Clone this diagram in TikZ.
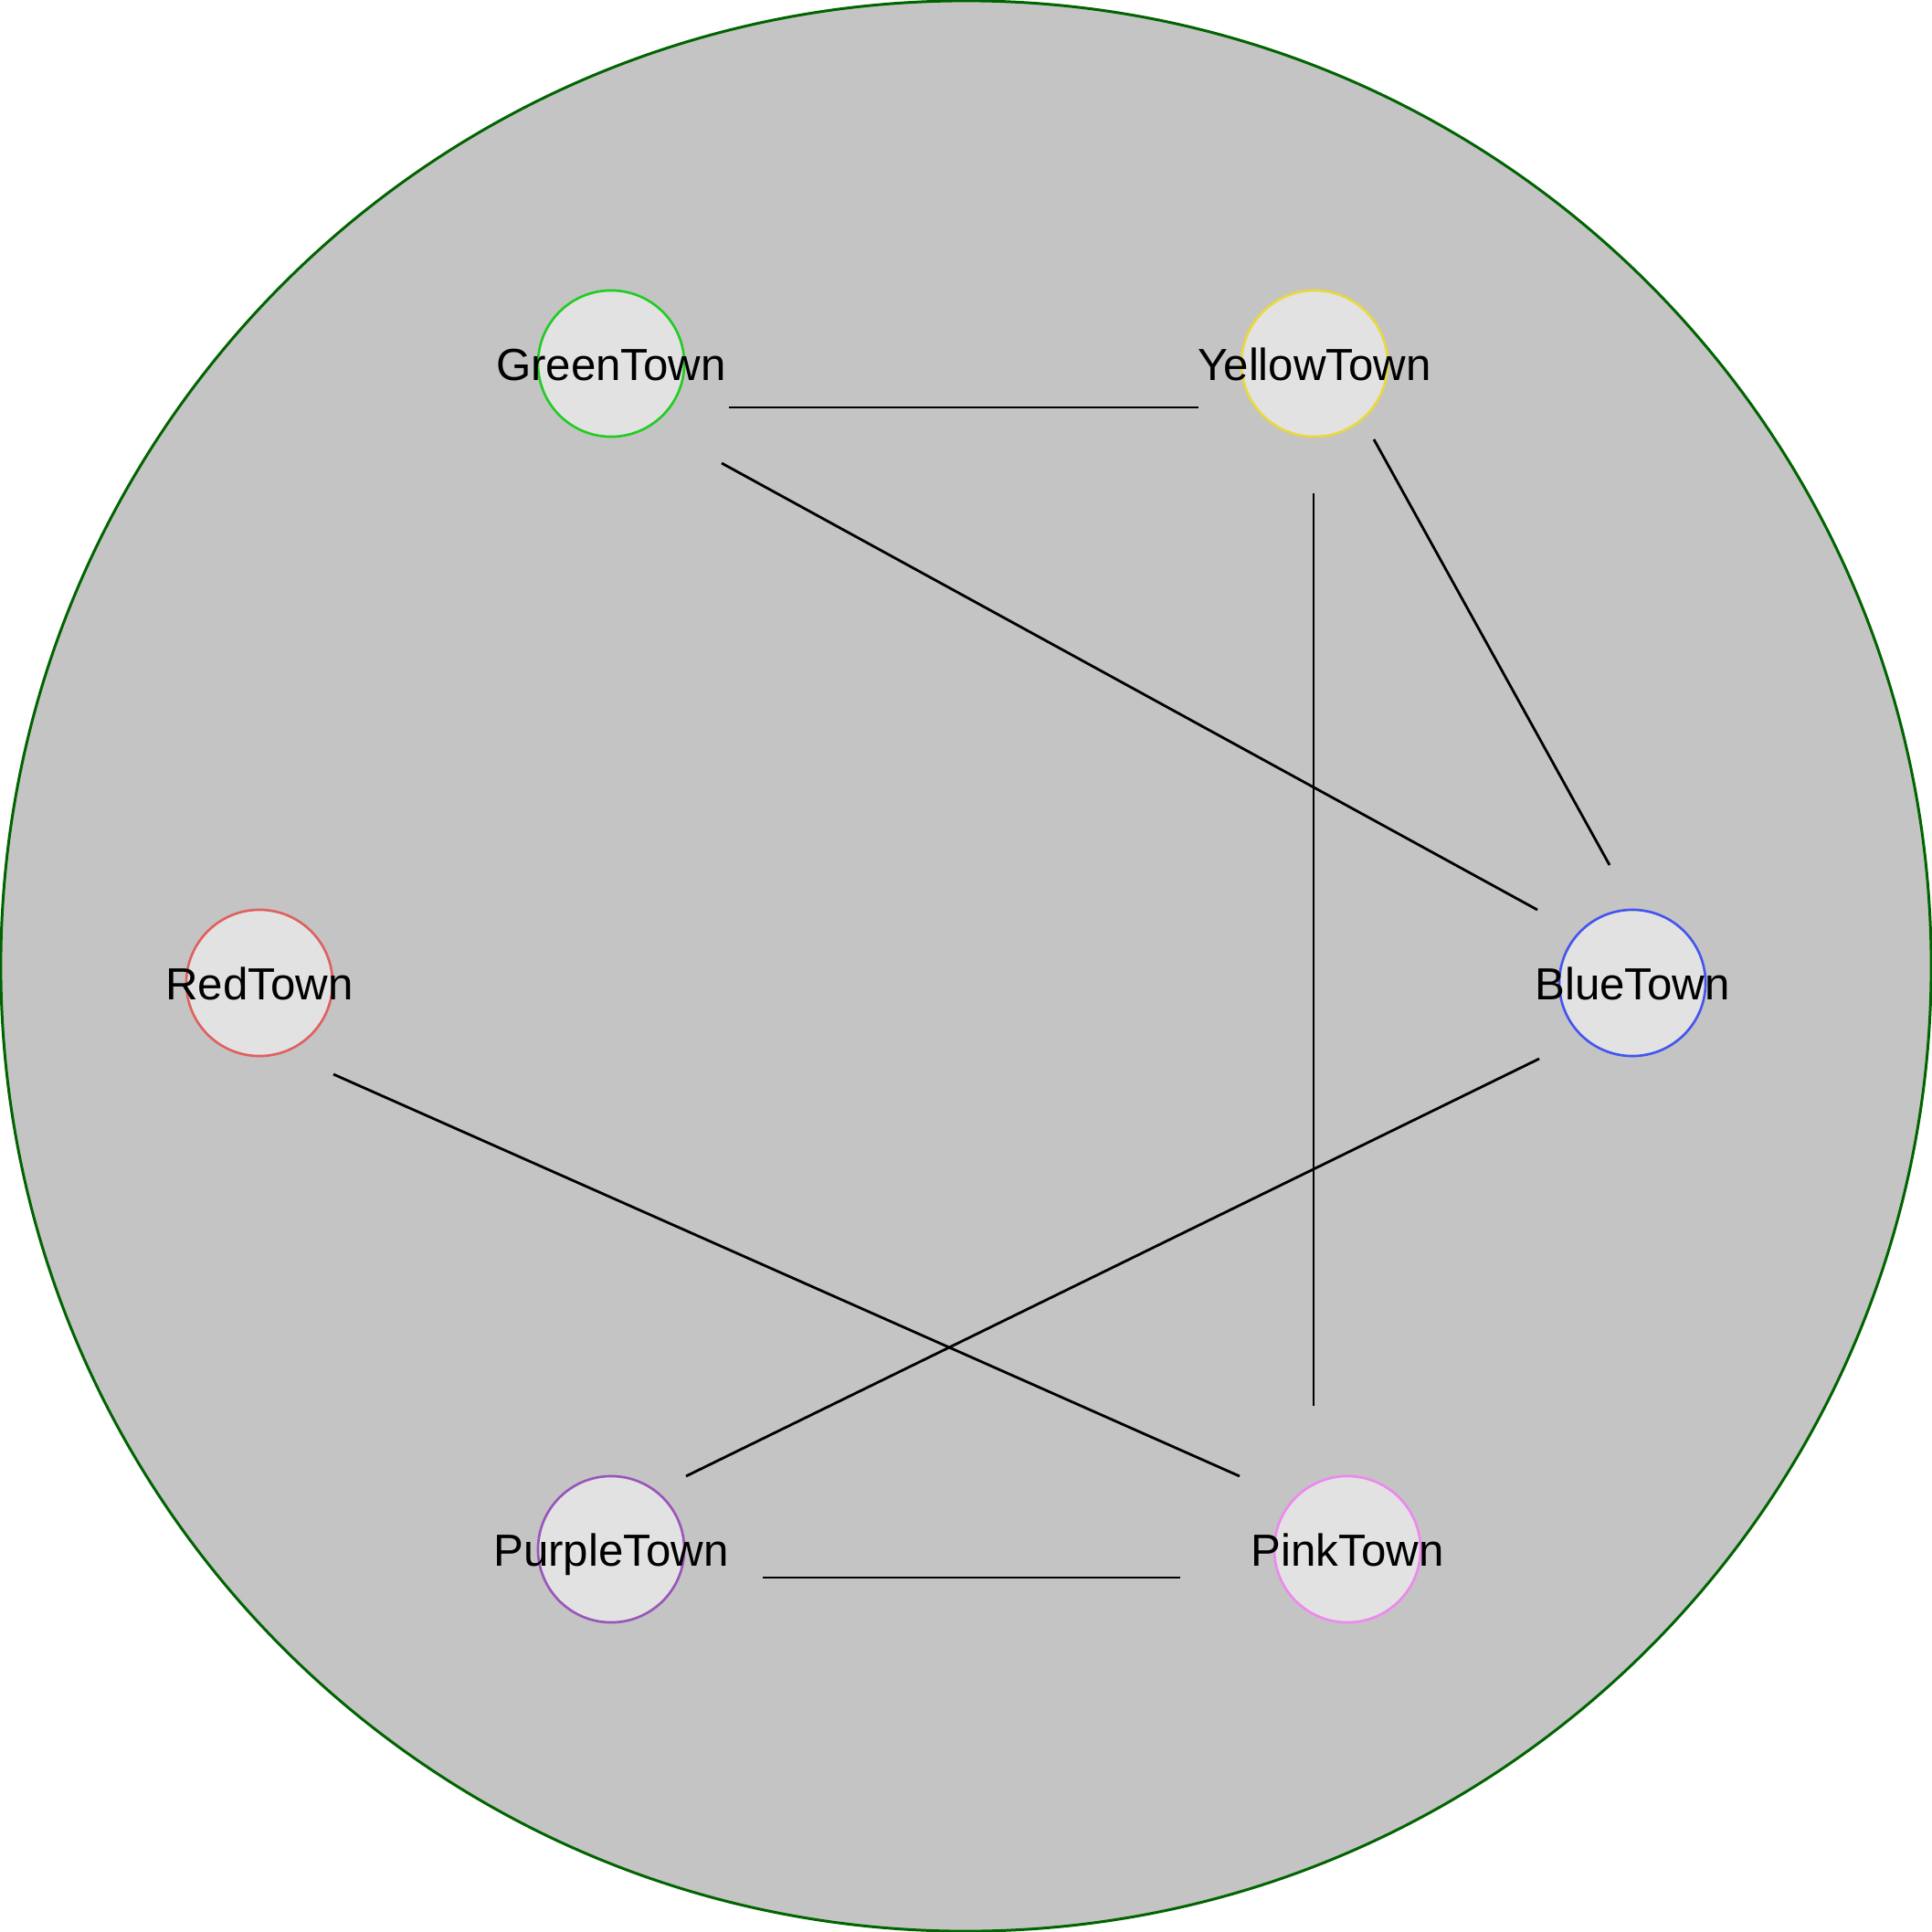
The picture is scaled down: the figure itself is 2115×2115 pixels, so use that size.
\documentclass[tikz,border=0pt]{standalone}
\usepackage{fontspec}
\setmainfont{Liberation Sans}
\definecolor{mapgrey}{HTML}{C4C4C4}
\definecolor{mapline}{HTML}{006400}
\definecolor{townfill}{HTML}{E2E2E2}
\definecolor{tgreen}{HTML}{22CC22}
\definecolor{tyellow}{HTML}{E8D840}
\definecolor{tblue}{HTML}{4455EE}
\definecolor{tred}{HTML}{E06060}
\definecolor{tpurple}{HTML}{9955BB}
\definecolor{tpink}{HTML}{EE88EE}
\begin{document}
\begin{tikzpicture}[
        x=0.01cm,
        y=-0.01cm,
        font=\fontsize{14}{16}\selectfont
    ]
    \tikzset{
        mytown/.style = {circle, draw=#1, line width=0.75pt, fill=townfill, minimum size=1.6cm, inner sep=0pt},
        mylabel/.style = {inner sep=0pt, anchor=base, text=black},
        myedge/.style = {-, line width=0.8pt, black},
    }
        \useasboundingbox (0,0) rectangle (2115,2115);
        \filldraw[fill=mapgrey, draw=mapline, line width=0.85pt] (1057.5,1057.5) circle [radius=10.56cm];
        %
        \node[mytown=tgreen] at (669,398) (green) {};
        \node[mytown=tyellow] at (1439,398) (yellow) {};
        \node[mytown=tred] at (284,1076) (red) {};
        \node[mytown=tblue] at (1787,1076) (blue) {};
        \node[mytown=tpurple] at (669,1696) (purple) {};
        \node[mytown=tpink] at (1475,1696) (pink) {};
        %
        \node[mylabel] at ([yshift=-0.18cm]green.center) (greenlbl) {GreenTown};
        \node[mylabel] at ([yshift=-0.18cm]yellow.center) (yellowlbl) {YellowTown};
        \node[mylabel] at ([yshift=-0.18cm]red.center) (redlbl) {RedTown};
        \node[mylabel] at ([yshift=-0.18cm]blue.center) (bluelbl) {BlueTown};
        \node[mylabel] at ([yshift=-0.18cm]purple.center) (purplelbl) {PurpleTown};
        \node[mylabel] at ([yshift=-0.18cm]pink.center) (pinklbl) {PinkTown};
        %
        \draw[myedge] ([shift={(129,48)}]green.center) -- ([shift={(-127,48)}]yellow.center);
        \draw[myedge] ([shift={(121,109)}]green.center) -- ([shift={(-104,-80)}]blue.center);
        \draw[myedge] ([shift={(65,83)}]yellow.center) -- ([shift={(-25,-129)}]blue.center);
        \draw[myedge] ([shift={(-1,142)}]yellow.center) -- ([shift={(-37,-157)}]pink.center);
        \draw[myedge] ([shift={(81,100)}]red.center) -- ([shift={(-118,-80)}]pink.center);
        \draw[myedge] ([shift={(-102,83)}]blue.center) -- ([shift={(82,-80)}]purple.center);
        \draw[myedge] ([shift={(166,31)}]purple.center) -- ([shift={(-183,31)}]pink.center);
    \end{tikzpicture}
\end{document}
